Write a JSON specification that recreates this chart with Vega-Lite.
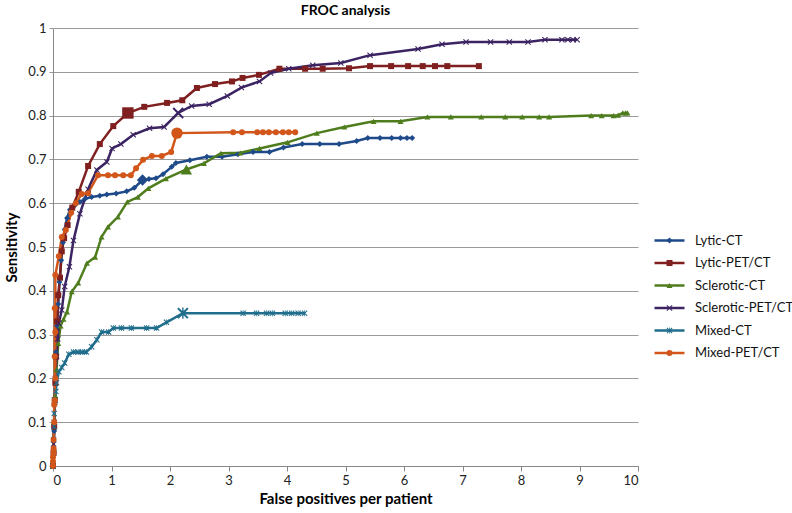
{
  "$schema": "https://vega.github.io/schema/vega-lite/v6.json",
  "width": 585,
  "height": 438,
  "autosize": {"type": "none"},
  "padding": {"left": 53, "top": 28, "right": 154, "bottom": 47},
  "background": "white",
  "config": {
    "view": {"stroke": null},
    "font": "Lato",
    "axis": {"labelFont": "Lato", "titleFont": "Lato", "labelColor": "#222", "titleColor": "#000"},
    "legend": {"labelFont": "Lato"}
  },
  "title": {"text": "FROC analysis", "fontSize": 14, "fontWeight": "bold", "font": "Lato", "color": "#000", "offset": 4},
  "datasets": {
    "froc": [
      {"s": "Lytic-CT", "x": 0, "y": 0}, {"s": "Lytic-CT", "x": 0.01, "y": 0.03}, {"s": "Lytic-CT", "x": 0.02, "y": 0.08}, {"s": "Lytic-CT", "x": 0.03, "y": 0.14}, {"s": "Lytic-CT", "x": 0.04, "y": 0.2}, {"s": "Lytic-CT", "x": 0.05, "y": 0.26}, {"s": "Lytic-CT", "x": 0.07, "y": 0.32}, {"s": "Lytic-CT", "x": 0.09, "y": 0.37}, {"s": "Lytic-CT", "x": 0.11, "y": 0.42}, {"s": "Lytic-CT", "x": 0.14, "y": 0.47}, {"s": "Lytic-CT", "x": 0.17, "y": 0.51}, {"s": "Lytic-CT", "x": 0.2, "y": 0.54}, {"s": "Lytic-CT", "x": 0.24, "y": 0.566}, {"s": "Lytic-CT", "x": 0.29, "y": 0.585}, {"s": "Lytic-CT", "x": 0.37, "y": 0.595}, {"s": "Lytic-CT", "x": 0.46, "y": 0.603}, {"s": "Lytic-CT", "x": 0.55, "y": 0.61}, {"s": "Lytic-CT", "x": 0.66, "y": 0.614}, {"s": "Lytic-CT", "x": 0.8, "y": 0.617}, {"s": "Lytic-CT", "x": 0.92, "y": 0.62}, {"s": "Lytic-CT", "x": 1.08, "y": 0.622}, {"s": "Lytic-CT", "x": 1.26, "y": 0.627}, {"s": "Lytic-CT", "x": 1.39, "y": 0.635}, {"s": "Lytic-CT", "x": 1.53, "y": 0.653}, {"s": "Lytic-CT", "x": 1.64, "y": 0.655}, {"s": "Lytic-CT", "x": 1.76, "y": 0.657}, {"s": "Lytic-CT", "x": 1.88, "y": 0.666}, {"s": "Lytic-CT", "x": 2.03, "y": 0.683}, {"s": "Lytic-CT", "x": 2.1, "y": 0.692}, {"s": "Lytic-CT", "x": 2.34, "y": 0.698}, {"s": "Lytic-CT", "x": 2.63, "y": 0.706}, {"s": "Lytic-CT", "x": 2.89, "y": 0.706}, {"s": "Lytic-CT", "x": 3.16, "y": 0.712}, {"s": "Lytic-CT", "x": 3.42, "y": 0.717}, {"s": "Lytic-CT", "x": 3.7, "y": 0.717}, {"s": "Lytic-CT", "x": 3.94, "y": 0.727}, {"s": "Lytic-CT", "x": 4.26, "y": 0.735}, {"s": "Lytic-CT", "x": 4.56, "y": 0.735}, {"s": "Lytic-CT", "x": 4.89, "y": 0.735}, {"s": "Lytic-CT", "x": 5.19, "y": 0.742}, {"s": "Lytic-CT", "x": 5.38, "y": 0.749}, {"s": "Lytic-CT", "x": 5.59, "y": 0.749}, {"s": "Lytic-CT", "x": 5.79, "y": 0.749}, {"s": "Lytic-CT", "x": 5.94, "y": 0.749}, {"s": "Lytic-CT", "x": 6.05, "y": 0.749}, {"s": "Lytic-CT", "x": 6.14, "y": 0.749},

      {"s": "Lytic-PET/CT", "x": 0, "y": 0}, {"s": "Lytic-PET/CT", "x": 0.01, "y": 0.03}, {"s": "Lytic-PET/CT", "x": 0.02, "y": 0.09}, {"s": "Lytic-PET/CT", "x": 0.03, "y": 0.15}, {"s": "Lytic-PET/CT", "x": 0.04, "y": 0.19}, {"s": "Lytic-PET/CT", "x": 0.05, "y": 0.25}, {"s": "Lytic-PET/CT", "x": 0.07, "y": 0.33}, {"s": "Lytic-PET/CT", "x": 0.09, "y": 0.39}, {"s": "Lytic-PET/CT", "x": 0.12, "y": 0.43}, {"s": "Lytic-PET/CT", "x": 0.15, "y": 0.49}, {"s": "Lytic-PET/CT", "x": 0.19, "y": 0.52}, {"s": "Lytic-PET/CT", "x": 0.25, "y": 0.55}, {"s": "Lytic-PET/CT", "x": 0.33, "y": 0.59}, {"s": "Lytic-PET/CT", "x": 0.44, "y": 0.626}, {"s": "Lytic-PET/CT", "x": 0.6, "y": 0.685}, {"s": "Lytic-PET/CT", "x": 0.8, "y": 0.735}, {"s": "Lytic-PET/CT", "x": 1.03, "y": 0.776}, {"s": "Lytic-PET/CT", "x": 1.28, "y": 0.806}, {"s": "Lytic-PET/CT", "x": 1.56, "y": 0.82}, {"s": "Lytic-PET/CT", "x": 1.95, "y": 0.829}, {"s": "Lytic-PET/CT", "x": 2.21, "y": 0.835}, {"s": "Lytic-PET/CT", "x": 2.46, "y": 0.863}, {"s": "Lytic-PET/CT", "x": 2.77, "y": 0.872}, {"s": "Lytic-PET/CT", "x": 3.06, "y": 0.878}, {"s": "Lytic-PET/CT", "x": 3.24, "y": 0.886}, {"s": "Lytic-PET/CT", "x": 3.52, "y": 0.893}, {"s": "Lytic-PET/CT", "x": 3.87, "y": 0.907}, {"s": "Lytic-PET/CT", "x": 4.31, "y": 0.907}, {"s": "Lytic-PET/CT", "x": 4.61, "y": 0.907}, {"s": "Lytic-PET/CT", "x": 5.06, "y": 0.908}, {"s": "Lytic-PET/CT", "x": 5.42, "y": 0.913}, {"s": "Lytic-PET/CT", "x": 5.78, "y": 0.913}, {"s": "Lytic-PET/CT", "x": 6.07, "y": 0.913}, {"s": "Lytic-PET/CT", "x": 6.32, "y": 0.913}, {"s": "Lytic-PET/CT", "x": 6.53, "y": 0.913}, {"s": "Lytic-PET/CT", "x": 6.74, "y": 0.913}, {"s": "Lytic-PET/CT", "x": 7.28, "y": 0.913},

      {"s": "Sclerotic-CT", "x": 0, "y": 0}, {"s": "Sclerotic-CT", "x": 0.01, "y": 0.04}, {"s": "Sclerotic-CT", "x": 0.02, "y": 0.1}, {"s": "Sclerotic-CT", "x": 0.04, "y": 0.16}, {"s": "Sclerotic-CT", "x": 0.06, "y": 0.22}, {"s": "Sclerotic-CT", "x": 0.09, "y": 0.28}, {"s": "Sclerotic-CT", "x": 0.13, "y": 0.32}, {"s": "Sclerotic-CT", "x": 0.18, "y": 0.335}, {"s": "Sclerotic-CT", "x": 0.24, "y": 0.352}, {"s": "Sclerotic-CT", "x": 0.32, "y": 0.398}, {"s": "Sclerotic-CT", "x": 0.43, "y": 0.418}, {"s": "Sclerotic-CT", "x": 0.58, "y": 0.463}, {"s": "Sclerotic-CT", "x": 0.72, "y": 0.477}, {"s": "Sclerotic-CT", "x": 0.83, "y": 0.523}, {"s": "Sclerotic-CT", "x": 0.94, "y": 0.546}, {"s": "Sclerotic-CT", "x": 1.11, "y": 0.569}, {"s": "Sclerotic-CT", "x": 1.27, "y": 0.603}, {"s": "Sclerotic-CT", "x": 1.45, "y": 0.614}, {"s": "Sclerotic-CT", "x": 1.63, "y": 0.634}, {"s": "Sclerotic-CT", "x": 1.93, "y": 0.656}, {"s": "Sclerotic-CT", "x": 2.28, "y": 0.677}, {"s": "Sclerotic-CT", "x": 2.58, "y": 0.691}, {"s": "Sclerotic-CT", "x": 2.87, "y": 0.714}, {"s": "Sclerotic-CT", "x": 3.2, "y": 0.715}, {"s": "Sclerotic-CT", "x": 3.53, "y": 0.725}, {"s": "Sclerotic-CT", "x": 4.01, "y": 0.739}, {"s": "Sclerotic-CT", "x": 4.51, "y": 0.76}, {"s": "Sclerotic-CT", "x": 4.98, "y": 0.774}, {"s": "Sclerotic-CT", "x": 5.48, "y": 0.787}, {"s": "Sclerotic-CT", "x": 5.94, "y": 0.787}, {"s": "Sclerotic-CT", "x": 6.4, "y": 0.797}, {"s": "Sclerotic-CT", "x": 6.8, "y": 0.797}, {"s": "Sclerotic-CT", "x": 7.32, "y": 0.797}, {"s": "Sclerotic-CT", "x": 7.73, "y": 0.797}, {"s": "Sclerotic-CT", "x": 8.02, "y": 0.797}, {"s": "Sclerotic-CT", "x": 8.31, "y": 0.797}, {"s": "Sclerotic-CT", "x": 8.48, "y": 0.797}, {"s": "Sclerotic-CT", "x": 9.2, "y": 0.8}, {"s": "Sclerotic-CT", "x": 9.38, "y": 0.8}, {"s": "Sclerotic-CT", "x": 9.58, "y": 0.8}, {"s": "Sclerotic-CT", "x": 9.66, "y": 0.801}, {"s": "Sclerotic-CT", "x": 9.74, "y": 0.806}, {"s": "Sclerotic-CT", "x": 9.79, "y": 0.806}, {"s": "Sclerotic-CT", "x": 9.82, "y": 0.806},

      {"s": "Sclerotic-PET/CT", "x": 0, "y": 0}, {"s": "Sclerotic-PET/CT", "x": 0.01, "y": 0.05}, {"s": "Sclerotic-PET/CT", "x": 0.02, "y": 0.1}, {"s": "Sclerotic-PET/CT", "x": 0.03, "y": 0.15}, {"s": "Sclerotic-PET/CT", "x": 0.04, "y": 0.2}, {"s": "Sclerotic-PET/CT", "x": 0.06, "y": 0.25}, {"s": "Sclerotic-PET/CT", "x": 0.08, "y": 0.29}, {"s": "Sclerotic-PET/CT", "x": 0.1, "y": 0.326}, {"s": "Sclerotic-PET/CT", "x": 0.15, "y": 0.356}, {"s": "Sclerotic-PET/CT", "x": 0.2, "y": 0.41}, {"s": "Sclerotic-PET/CT", "x": 0.28, "y": 0.455}, {"s": "Sclerotic-PET/CT", "x": 0.35, "y": 0.515}, {"s": "Sclerotic-PET/CT", "x": 0.46, "y": 0.576}, {"s": "Sclerotic-PET/CT", "x": 0.6, "y": 0.632}, {"s": "Sclerotic-PET/CT", "x": 0.75, "y": 0.676}, {"s": "Sclerotic-PET/CT", "x": 0.92, "y": 0.694}, {"s": "Sclerotic-PET/CT", "x": 1.01, "y": 0.725}, {"s": "Sclerotic-PET/CT", "x": 1.16, "y": 0.735}, {"s": "Sclerotic-PET/CT", "x": 1.37, "y": 0.756}, {"s": "Sclerotic-PET/CT", "x": 1.65, "y": 0.771}, {"s": "Sclerotic-PET/CT", "x": 1.9, "y": 0.774}, {"s": "Sclerotic-PET/CT", "x": 2.14, "y": 0.806}, {"s": "Sclerotic-PET/CT", "x": 2.37, "y": 0.822}, {"s": "Sclerotic-PET/CT", "x": 2.67, "y": 0.826}, {"s": "Sclerotic-PET/CT", "x": 2.98, "y": 0.845}, {"s": "Sclerotic-PET/CT", "x": 3.22, "y": 0.864}, {"s": "Sclerotic-PET/CT", "x": 3.53, "y": 0.878}, {"s": "Sclerotic-PET/CT", "x": 3.72, "y": 0.897}, {"s": "Sclerotic-PET/CT", "x": 4.03, "y": 0.907}, {"s": "Sclerotic-PET/CT", "x": 4.44, "y": 0.915}, {"s": "Sclerotic-PET/CT", "x": 4.92, "y": 0.92}, {"s": "Sclerotic-PET/CT", "x": 5.42, "y": 0.938}, {"s": "Sclerotic-PET/CT", "x": 6.24, "y": 0.952}, {"s": "Sclerotic-PET/CT", "x": 6.65, "y": 0.963}, {"s": "Sclerotic-PET/CT", "x": 7.06, "y": 0.968}, {"s": "Sclerotic-PET/CT", "x": 7.48, "y": 0.968}, {"s": "Sclerotic-PET/CT", "x": 7.8, "y": 0.968}, {"s": "Sclerotic-PET/CT", "x": 8.12, "y": 0.968}, {"s": "Sclerotic-PET/CT", "x": 8.41, "y": 0.973}, {"s": "Sclerotic-PET/CT", "x": 8.7, "y": 0.973}, {"s": "Sclerotic-PET/CT", "x": 8.8, "y": 0.973}, {"s": "Sclerotic-PET/CT", "x": 8.89, "y": 0.973}, {"s": "Sclerotic-PET/CT", "x": 8.96, "y": 0.973},

      {"s": "Mixed-CT", "x": 0, "y": 0}, {"s": "Mixed-CT", "x": 0.01, "y": 0.03}, {"s": "Mixed-CT", "x": 0.01, "y": 0.06}, {"s": "Mixed-CT", "x": 0.02, "y": 0.09}, {"s": "Mixed-CT", "x": 0.02, "y": 0.12}, {"s": "Mixed-CT", "x": 0.03, "y": 0.15}, {"s": "Mixed-CT", "x": 0.05, "y": 0.17}, {"s": "Mixed-CT", "x": 0.06, "y": 0.19}, {"s": "Mixed-CT", "x": 0.1, "y": 0.215}, {"s": "Mixed-CT", "x": 0.15, "y": 0.225}, {"s": "Mixed-CT", "x": 0.2, "y": 0.235}, {"s": "Mixed-CT", "x": 0.27, "y": 0.255}, {"s": "Mixed-CT", "x": 0.35, "y": 0.26}, {"s": "Mixed-CT", "x": 0.43, "y": 0.26}, {"s": "Mixed-CT", "x": 0.5, "y": 0.26}, {"s": "Mixed-CT", "x": 0.57, "y": 0.26}, {"s": "Mixed-CT", "x": 0.66, "y": 0.272}, {"s": "Mixed-CT", "x": 0.75, "y": 0.288}, {"s": "Mixed-CT", "x": 0.83, "y": 0.306}, {"s": "Mixed-CT", "x": 0.95, "y": 0.306}, {"s": "Mixed-CT", "x": 1.03, "y": 0.315}, {"s": "Mixed-CT", "x": 1.17, "y": 0.315}, {"s": "Mixed-CT", "x": 1.34, "y": 0.315}, {"s": "Mixed-CT", "x": 1.6, "y": 0.315}, {"s": "Mixed-CT", "x": 1.77, "y": 0.315}, {"s": "Mixed-CT", "x": 1.94, "y": 0.328}, {"s": "Mixed-CT", "x": 2.22, "y": 0.349}, {"s": "Mixed-CT", "x": 3.25, "y": 0.349}, {"s": "Mixed-CT", "x": 3.48, "y": 0.349}, {"s": "Mixed-CT", "x": 3.65, "y": 0.349}, {"s": "Mixed-CT", "x": 3.75, "y": 0.349}, {"s": "Mixed-CT", "x": 3.97, "y": 0.349}, {"s": "Mixed-CT", "x": 4.08, "y": 0.349}, {"s": "Mixed-CT", "x": 4.19, "y": 0.349}, {"s": "Mixed-CT", "x": 4.3, "y": 0.349},

      {"s": "Mixed-PET/CT", "x": 0, "y": 0}, {"s": "Mixed-PET/CT", "x": 0, "y": 0.01}, {"s": "Mixed-PET/CT", "x": 0, "y": 0.02}, {"s": "Mixed-PET/CT", "x": 0.01, "y": 0.03}, {"s": "Mixed-PET/CT", "x": 0.01, "y": 0.04}, {"s": "Mixed-PET/CT", "x": 0.01, "y": 0.06}, {"s": "Mixed-PET/CT", "x": 0.02, "y": 0.1}, {"s": "Mixed-PET/CT", "x": 0.02, "y": 0.14}, {"s": "Mixed-PET/CT", "x": 0.03, "y": 0.15}, {"s": "Mixed-PET/CT", "x": 0.04, "y": 0.2}, {"s": "Mixed-PET/CT", "x": 0.03, "y": 0.25}, {"s": "Mixed-PET/CT", "x": 0.04, "y": 0.306}, {"s": "Mixed-PET/CT", "x": 0.03, "y": 0.36}, {"s": "Mixed-PET/CT", "x": 0.04, "y": 0.436}, {"s": "Mixed-PET/CT", "x": 0.1, "y": 0.479}, {"s": "Mixed-PET/CT", "x": 0.15, "y": 0.523}, {"s": "Mixed-PET/CT", "x": 0.22, "y": 0.539}, {"s": "Mixed-PET/CT", "x": 0.31, "y": 0.578}, {"s": "Mixed-PET/CT", "x": 0.39, "y": 0.6}, {"s": "Mixed-PET/CT", "x": 0.49, "y": 0.621}, {"s": "Mixed-PET/CT", "x": 0.6, "y": 0.623}, {"s": "Mixed-PET/CT", "x": 0.77, "y": 0.664}, {"s": "Mixed-PET/CT", "x": 0.94, "y": 0.664}, {"s": "Mixed-PET/CT", "x": 1.06, "y": 0.664}, {"s": "Mixed-PET/CT", "x": 1.2, "y": 0.664}, {"s": "Mixed-PET/CT", "x": 1.33, "y": 0.664}, {"s": "Mixed-PET/CT", "x": 1.42, "y": 0.68}, {"s": "Mixed-PET/CT", "x": 1.54, "y": 0.699}, {"s": "Mixed-PET/CT", "x": 1.69, "y": 0.708}, {"s": "Mixed-PET/CT", "x": 1.86, "y": 0.708}, {"s": "Mixed-PET/CT", "x": 2.02, "y": 0.717}, {"s": "Mixed-PET/CT", "x": 2.12, "y": 0.76}, {"s": "Mixed-PET/CT", "x": 3.08, "y": 0.762}, {"s": "Mixed-PET/CT", "x": 3.23, "y": 0.762}, {"s": "Mixed-PET/CT", "x": 3.49, "y": 0.762}, {"s": "Mixed-PET/CT", "x": 3.59, "y": 0.762}, {"s": "Mixed-PET/CT", "x": 3.69, "y": 0.762}, {"s": "Mixed-PET/CT", "x": 3.81, "y": 0.762}, {"s": "Mixed-PET/CT", "x": 3.93, "y": 0.762}, {"s": "Mixed-PET/CT", "x": 4.03, "y": 0.762}, {"s": "Mixed-PET/CT", "x": 4.14, "y": 0.762}
    ],
    "op": [
      {"s": "Lytic-CT", "x": 1.53, "y": 0.653},
      {"s": "Lytic-PET/CT", "x": 1.28, "y": 0.806},
      {"s": "Sclerotic-CT", "x": 2.28, "y": 0.677},
      {"s": "Sclerotic-PET/CT", "x": 2.14, "y": 0.806},
      {"s": "Mixed-CT", "x": 2.22, "y": 0.349},
      {"s": "Mixed-PET/CT", "x": 2.12, "y": 0.76}
    ]
  },
  "encoding": {
    "x": {
      "field": "x", "type": "quantitative",
      "scale": {"domain": [0, 10], "nice": false, "zero": true},
      "axis": {
        "title": "False positives per patient", "values": [0, 1, 2, 3, 4, 5, 6, 7, 8, 9, 10], "format": "d",
        "grid": false, "tickSize": 5, "domainColor": "#888888", "tickColor": "#888888",
        "labelFontSize": 13, "labelPadding": 3, "titleFontSize": 15, "titleFontWeight": "bold", "titlePadding": 4
      }
    },
    "y": {
      "field": "y", "type": "quantitative",
      "scale": {"domain": [0, 1], "nice": false},
      "axis": {
        "title": "Sensitivity", "values": [0, 0.1, 0.2, 0.3, 0.4, 0.5, 0.6, 0.7, 0.8, 0.9, 1], "format": ".1~f",
        "grid": true, "gridColor": "#9a9a9a", "gridWidth": 1, "tickSize": 4, "tickColor": "#9a9a9a", "domainColor": "#888888",
        "labelFontSize": 13, "labelPadding": 3, "titleFontSize": 15, "titleFontWeight": "bold", "titlePadding": 8
      }
    }
  },
  "layer": [
    {
      "data": {"name": "froc"},
      "mark": {"type": "line", "strokeWidth": 2.5},
      "encoding": {
        "stroke": {
          "field": "s", "type": "nominal",
          "scale": {"range": ["#1F4A8A", "#7F1F1F", "#206E8C", "#D2561A", "#4F7D1E", "#3C2463"]},
          "legend": {
            "title": null, "orient": "none", "legendX": 610, "legendY": 206, "padding": 0,
            "values": ["Lytic-CT", "Lytic-PET/CT", "Sclerotic-CT", "Sclerotic-PET/CT", "Mixed-CT", "Mixed-PET/CT"],
            "symbolType": "M-5,0L5,0", "symbolSize": 36, "symbolStrokeWidth": 2.5,
            "labelFontSize": 13, "labelColor": "#111", "labelOffset": 19, "rowPadding": 8.5
          }
        },
        "order": [{"field": "y", "type": "quantitative"}, {"field": "x", "type": "quantitative"}]
      }
    },
    {
      "data": {"name": "froc"},
      "mark": {"type": "point", "filled": true, "size": 36, "opacity": 1},
      "encoding": {
        "fill": {
          "field": "s", "type": "nominal",
          "scale": {
            "domain": ["Lytic-CT", "Lytic-PET/CT", "Sclerotic-CT", "Sclerotic-PET/CT", "Mixed-CT", "Mixed-PET/CT"],
            "range": ["#1F4A8A", "#7F1F1F", "#4F7D1E", "#3C2463", "#206E8C", "#D2561A"]
          },
          "legend": {
            "title": null, "orient": "none", "legendX": 610, "legendY": 206, "padding": 0,
            "symbolSize": 36, "labelFontSize": 13, "labelOpacity": 0, "labelOffset": 19, "rowPadding": 8.5
          }
        },
        "shape": {
          "field": "s", "type": "nominal",
          "scale": {
            "domain": ["Lytic-CT", "Lytic-PET/CT", "Sclerotic-CT", "Sclerotic-PET/CT", "Mixed-CT", "Mixed-PET/CT"],
            "range": ["diamond", "square", "triangle-up",
              "M-1,-0.75L-0.75,-1L0,-0.25L0.75,-1L1,-0.75L0.25,0L1,0.75L0.75,1L0,0.25L-0.75,1L-1,0.75L-0.25,0Z",
              "M-1,-0.75L-0.75,-1L0,-0.25L0.75,-1L1,-0.75L0.25,0L1,0.75L0.75,1L0,0.25L-0.75,1L-1,0.75L-0.25,0ZM-0.12,-1L0.12,-1L0.12,1L-0.12,1Z",
              "circle"]
          },
          "legend": {
            "title": null, "orient": "none", "legendX": 610, "legendY": 206, "padding": 0,
            "symbolSize": 36, "labelFontSize": 13, "labelOpacity": 0, "labelOffset": 19, "rowPadding": 8.5
          }
        }
      }
    },
    {
      "data": {"name": "op"},
      "mark": {"type": "point", "filled": true, "size": 130, "opacity": 1},
      "encoding": {
        "fill": {"field": "s", "type": "nominal"},
        "shape": {"field": "s", "type": "nominal"}
      }
    }
  ]
}
